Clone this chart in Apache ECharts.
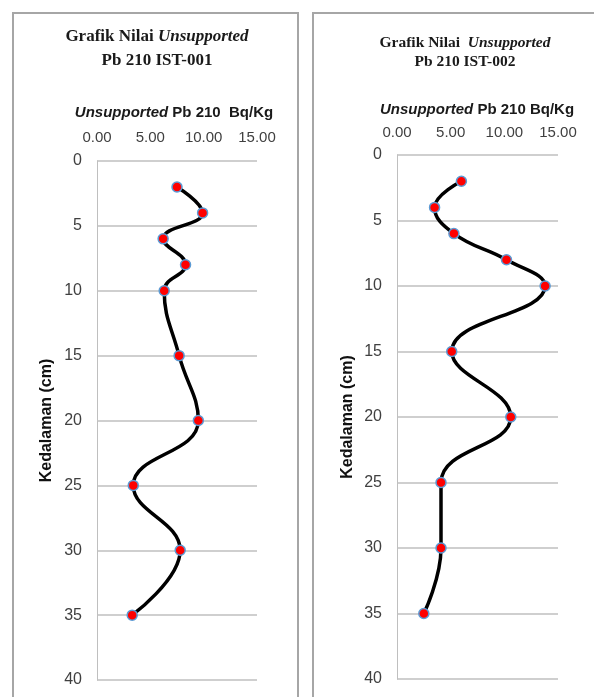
<!DOCTYPE html>
<html>
<head>
<meta charset="utf-8">
<script src="https://cdn.jsdelivr.net/npm/echarts@6/dist/echarts.min.js"></script>
<style>
html,body{margin:0;padding:0;background:#fff;}
#chart{width:594px;height:697px;}
</style>
</head>
<body>
<div id="chart"></div>
<script>
// Data
var depths = [2, 4, 6, 8, 10, 15, 20, 25, 30, 35];
var ist001 = [7.5, 9.9, 6.2, 8.3, 6.3, 7.7, 9.5, 3.4, 7.8, 3.3];
var ist002 = [6.0, 3.5, 5.3, 10.2, 13.8, 5.1, 10.6, 4.1, 4.1, 2.5];
var xTicks = [0, 5, 10, 15];
var yTicks = [0, 5, 10, 15, 20, 25, 30, 35, 40];

function pairs(vals) {
  return vals.map(function (v, i) { return [v, depths[i]]; });
}

var sans = 'Liberation Sans';
var serif = 'Liberation Serif';
var titleColor = '#1a1a1a';

function mkX(idx, margin) {
  return {
    gridIndex: idx, type: 'value', position: 'top',
    min: xTicks[0], max: xTicks[xTicks.length - 1], interval: 5,
    axisLine: {show: false}, axisTick: {show: false}, splitLine: {show: false},
    axisLabel: {
      margin: margin, fontFamily: sans, fontSize: 15, color: '#404040',
      formatter: function (v) { return v.toFixed(2); }
    }
  };
}
function mkY(idx, gap) {
  return {
    gridIndex: idx, type: 'value', inverse: true,
    min: yTicks[0], max: yTicks[yTicks.length - 1], interval: 5,
    name: 'Kedalaman (cm)', nameLocation: 'middle', nameGap: gap, nameRotate: 90,
    nameTextStyle: {fontFamily: sans, fontWeight: 'bold', fontSize: 16, color: '#111'},
    axisLine: {show: true, lineStyle: {color: '#bfbfbf', width: 1}},
    axisTick: {show: false},
    axisLabel: {margin: 15, fontFamily: sans, fontSize: 16, color: '#404040'},
    splitLine: {show: true, lineStyle: {color: '#bfbfbf', width: 1.5}}
  };
}
function mkSeries(idx, vals) {
  return {
    type: 'line', xAxisIndex: idx, yAxisIndex: idx,
    data: pairs(vals), smooth: 0.45,
    symbol: 'circle', symbolSize: 10,
    lineStyle: {color: '#000', width: 3.5},
    itemStyle: {color: '#ff0000', borderColor: '#5b9bd5', borderWidth: 1.5},
    z: 3
  };
}

var chart = echarts.init(document.getElementById('chart'));
chart.setOption({
  backgroundColor: '#fff',
  animation: false,
  title: [
    {text: 'Grafik Nilai {i|Unsupported}', left: 152, top: 23, textAlign: 'center',
     textStyle: {fontFamily: serif, fontWeight: 'bold', fontSize: 17, color: titleColor,
       rich: {i: {fontFamily: serif, fontStyle: 'italic', fontWeight: 'bold', fontSize: 17, color: titleColor}}}},
    {text: 'Pb 210 IST-001', left: 152, top: 47, textAlign: 'center',
     textStyle: {fontFamily: serif, fontWeight: 'bold', fontSize: 17, color: titleColor}},
    {text: 'Grafik Nilai  {i|Unsupported}', left: 460, top: 30, textAlign: 'center',
     textStyle: {fontFamily: serif, fontWeight: 'bold', fontSize: 15.5, color: titleColor,
       rich: {i: {fontFamily: serif, fontStyle: 'italic', fontWeight: 'bold', fontSize: 15.5, color: titleColor}}}},
    {text: 'Pb 210 IST-002', left: 460, top: 49, textAlign: 'center',
     textStyle: {fontFamily: serif, fontWeight: 'bold', fontSize: 15.5, color: titleColor}},
    {text: '{i|Unsupported} Pb 210  Bq/Kg', left: 169, top: 100, textAlign: 'center',
     textStyle: {fontFamily: sans, fontWeight: 'bold', fontSize: 15, color: '#1a1a1a',
       rich: {i: {fontFamily: sans, fontStyle: 'italic', fontWeight: 'bold', fontSize: 15, color: '#1a1a1a'}}}},
    {text: '{i|Unsupported} Pb 210 Bq/Kg', left: 472, top: 97, textAlign: 'center',
     textStyle: {fontFamily: sans, fontWeight: 'bold', fontSize: 15, color: '#1a1a1a',
       rich: {i: {fontFamily: sans, fontStyle: 'italic', fontWeight: 'bold', fontSize: 15, color: '#1a1a1a'}}}}
  ],
  grid: [
    {left: 97, right: 337, top: 161, bottom: 17},
    {left: 397, right: 36, top: 155, bottom: 18}
  ],
  xAxis: [mkX(0, 16), mkX(1, 15)],
  yAxis: [mkY(0, 42), mkY(1, 41)],
  series: [mkSeries(0, ist001), mkSeries(1, ist002)],
  graphic: [
    {type: 'rect', shape: {x: 13, y: 13, width: 285, height: 720},
     style: {fill: 'none', stroke: '#a6a6a6', lineWidth: 2}, silent: true},
    {type: 'rect', shape: {x: 313, y: 13, width: 300, height: 720},
     style: {fill: 'none', stroke: '#a6a6a6', lineWidth: 2}, silent: true}
  ]
});
</script>
</body>
</html>
